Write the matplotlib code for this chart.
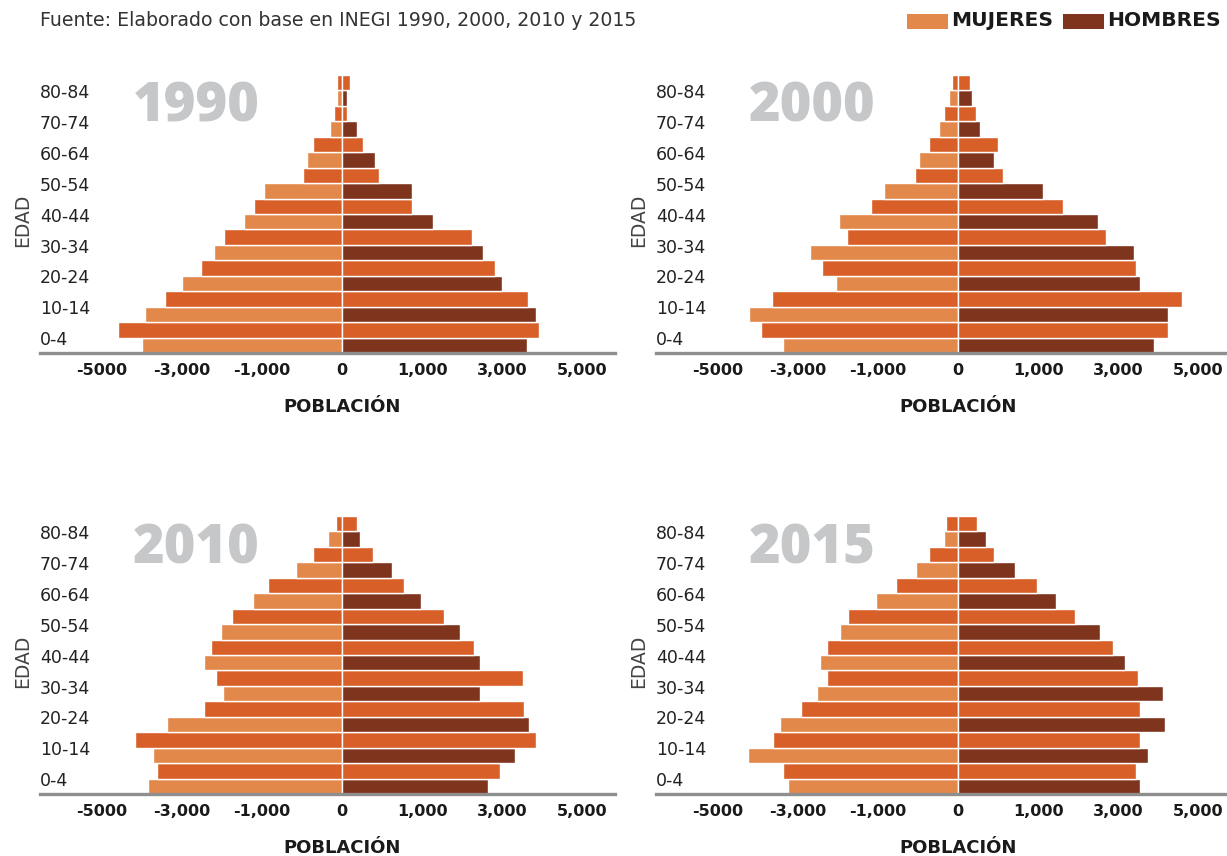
import matplotlib
matplotlib.use("Agg")
import matplotlib.pyplot as plt
from matplotlib.patches import Rectangle
from matplotlib.transforms import blended_transform_factory

plt.rcParams.update({"font.family": "DejaVu Sans"})

# edad de abajo hacia arriba
EDADES = ["0-4", "5-9", "10-14", "15-19", "20-24", "25-29", "30-34", "35-39",
          "40-44", "45-49", "50-54", "55-59", "60-64", "65-69", "70-74",
          "75-79", "80-84", "85+"]
EDADES_VISIBLES = ["0-4", "10-14", "20-24", "30-34", "40-44", "50-54",
                   "60-64", "70-74", "80-84"]

MUJERES_1990 = [2500, 2800, 2460, 2210, 2000, 1760, 1600, 1480, 1230, 1100,
                970, 490, 440, 360, 145, 95, 60, 60]
HOMBRES_1990 = [2310, 2460, 2430, 2330, 2000, 1910, 1760, 1620, 1140, 880,
                875, 460, 415, 260, 185, 65, 65, 95]

MUJERES_2000 = [2190, 2460, 2610, 2330, 1530, 1700, 1850, 1390, 1490, 1090,
                930, 540, 490, 360, 240, 175, 110, 70]
HOMBRES_2000 = [2450, 2630, 2630, 2800, 2280, 2220, 2200, 1850, 1750, 1310,
                1060, 560, 450, 500, 280, 225, 180, 145]

MUJERES_2010 = [2430, 2310, 2360, 2590, 2190, 1720, 1490, 1580, 1720, 1640,
                1510, 1370, 1110, 920, 580, 360, 180, 70]
HOMBRES_2010 = [1830, 1970, 2160, 2430, 2340, 2280, 1720, 2260, 1720, 1650,
                1470, 1270, 990, 770, 620, 390, 220, 190]

MUJERES_2015 = [2130, 2190, 2630, 2310, 2220, 1960, 1760, 1640, 1720, 1640,
                1480, 1370, 1020, 780, 520, 360, 180, 150]
HOMBRES_2015 = [2280, 2230, 2370, 2280, 2590, 2280, 2560, 2250, 2090, 1940,
                1780, 1460, 1230, 990, 710, 450, 350, 235]

ANIOS = ["1990", "2000", "2010", "2015"]
MUJERES = [MUJERES_1990, MUJERES_2000, MUJERES_2010, MUJERES_2015]
HOMBRES = [HOMBRES_1990, HOMBRES_2000, HOMBRES_2010, HOMBRES_2015]

XTICKS = [-3000, -2000, -1000, 0, 1000, 2000, 3000]
XTICK_LABELS = ["-5000", "-3,000", "-1,000", "0", "1,000", "3,000", "5,000"]

LIGHT = "#E3884B"
MID = "#D85F28"
BROWN = "#7F341D"
GREY_YEAR = "#C6C7C9"
INK = "#1a1a1a"

W, H = 1227, 856
fig = plt.figure(figsize=(W / 100, H / 100), dpi=100)

# panel rects in pixels: left, baseline-y, top-y
panels = [(40, 353, 75), (656, 353, 75), (40, 794, 516), (656, 794, 516)]
AX_W = 575

for i, (x0, ybase, ytop) in enumerate(panels):
    ax = fig.add_axes([x0 / W, 1 - ybase / H, AX_W / W, (ybase - ytop) / H])
    ypos = list(range(len(EDADES)))
    left_cols = [LIGHT if k % 2 == 0 else MID for k in ypos]
    right_cols = [BROWN if k % 2 == 0 else MID for k in ypos]
    ax.barh(ypos, [-v for v in MUJERES[i]], height=1.0, color=left_cols,
            edgecolor="white", linewidth=1.0, zorder=2)
    ax.barh(ypos, HOMBRES[i], height=1.0, color=right_cols,
            edgecolor="white", linewidth=1.0, zorder=2)
    ax.set_xlim(-3775, 3412)
    ax.set_ylim(-0.5, len(EDADES) - 0.5)
    for s in ("top", "right", "left"):
        ax.spines[s].set_visible(False)
    ax.spines["bottom"].set_color("#8e8e8e")
    ax.spines["bottom"].set_linewidth(2.4)
    ax.spines["bottom"].set_zorder(3)
    ax.set_yticks([])
    ax.set_xticks(XTICKS)
    ax.set_xticklabels(XTICK_LABELS, fontsize=11.5, fontweight="bold",
                       color=INK)
    ax.tick_params(axis="x", length=0, pad=7)

    tr = blended_transform_factory(ax.transAxes, ax.transData)
    for lab in EDADES_VISIBLES:
        ax.text(0.0, EDADES.index(lab) + 0.33, lab, transform=tr, ha="left",
                va="center", fontsize=12.5, color="#222222")

    ax.annotate("POBLACIÓN", xy=(0, 0), xycoords=("data", "axes fraction"),
                xytext=(0, -39), textcoords="offset points", ha="center",
                va="center", fontsize=13, fontweight="bold", color=INK)

    # EDAD label
    fig.text((x0 - 17) / W, 1 - (ytop + 145) / H, "EDAD", rotation=90,
             ha="center", va="center", fontsize=13.5, color="#444444")

    # year label
    fig.text((x0 + 93) / W, 1 - (ytop + 47) / H, ANIOS[i], ha="left",
             va="baseline", fontsize=39, fontweight="heavy",
             family="Open Sans", color=GREY_YEAR)

fig.text(40 / W, 1 - 21 / H, "Fuente: Elaborado con base en INEGI 1990, "
         "2000, 2010 y 2015", ha="left", va="center", fontsize=13.6,
         color="#333333")

# legend
fig.patches.append(Rectangle((907 / W, 1 - 29 / H), 41 / W, 15 / H,
                             transform=fig.transFigure, facecolor=LIGHT,
                             edgecolor="none"))
fig.text(951 / W, 1 - 21 / H, "MUJERES", ha="left", va="center",
         fontsize=14.6, fontweight="bold", color=INK)
fig.patches.append(Rectangle((1063 / W, 1 - 29 / H), 41 / W, 15 / H,
                             transform=fig.transFigure, facecolor=BROWN,
                             edgecolor="none"))
fig.text(1107 / W, 1 - 21 / H, "HOMBRES", ha="left", va="center",
         fontsize=14.6, fontweight="bold", color=INK)

fig.savefig("out.png", dpi=100, facecolor="white")
